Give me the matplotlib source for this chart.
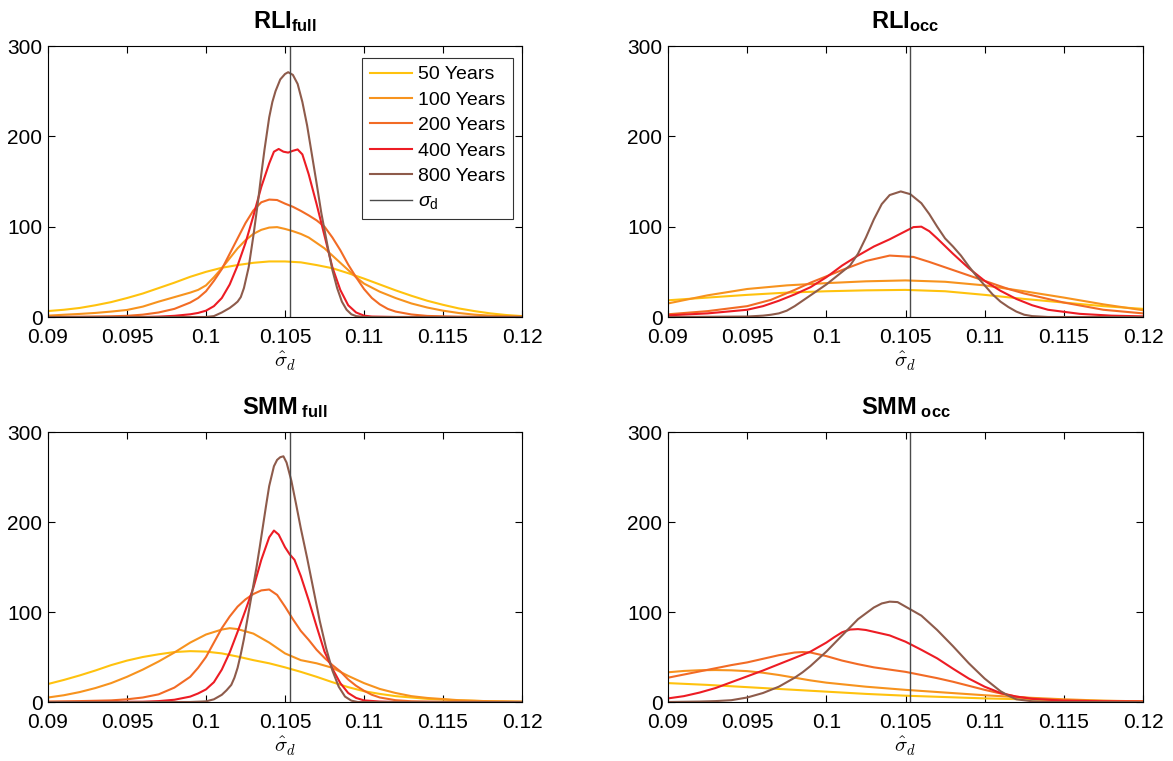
import matplotlib
matplotlib.use("Agg")
import matplotlib.pyplot as plt

plt.rcParams['font.family'] = ['Liberation Sans', 'DejaVu Sans']
plt.rcParams['mathtext.fontset'] = 'custom'
plt.rcParams['mathtext.rm'] = 'Liberation Sans'
plt.rcParams['mathtext.bf'] = 'Liberation Sans:bold'
plt.rcParams['mathtext.it'] = 'Liberation Sans:italic'

sigma_d = 0.1053
labels = ['50 Years', '100 Years', '200 Years', '400 Years', '800 Years']
colors = ['#FFC20E', '#F7931E', '#F26B25', '#ED1C24', '#8E5B4B']
titles = [r'$\mathbf{RLI}_{\mathbf{full}}$', r'$\mathbf{RLI}_{\mathbf{occ}}$',
          r'$\mathbf{SMM}_{\mathbf{\ full}}$', r'$\mathbf{SMM}_{\mathbf{\ occ}}$']
xticks = [0.09, 0.095, 0.1, 0.105, 0.11, 0.115, 0.12]
xticklabels = ['0.09', '0.095', '0.1', '0.105', '0.11', '0.115', '0.12']
yticks = [0, 100, 200, 300]

# ---------------- RLI full ----------------
rf50_x = [0.090, 0.091, 0.092, 0.093, 0.094, 0.095, 0.096, 0.097, 0.098, 0.099, 0.100, 0.101, 0.102, 0.103,
          0.104, 0.105, 0.106, 0.107, 0.108, 0.109, 0.110, 0.111, 0.112, 0.113, 0.114, 0.115, 0.116, 0.117,
          0.118, 0.119, 0.120]
rf50_y = [6.6, 8, 10, 13, 16.5, 21, 26, 32, 38, 44.5, 50, 54.5, 57.5, 60, 61.5, 61.5, 60.5, 57.5, 54, 48.5,
          42.5, 36, 29.5, 23.5, 18, 13.5, 9.5, 6.5, 4, 2.2, 1]
rf100_x = [0.090, 0.091, 0.092, 0.093, 0.094, 0.095, 0.096, 0.097, 0.098, 0.099, 0.0995, 0.100, 0.1005, 0.101,
           0.1015, 0.102, 0.1025, 0.103, 0.1035, 0.104, 0.1045, 0.105, 0.1055, 0.106, 0.1065, 0.107, 0.1075,
           0.108, 0.1085, 0.109, 0.1095, 0.110, 0.111, 0.112, 0.113, 0.114, 0.115, 0.116, 0.117, 0.118, 0.119,
           0.120]
rf100_y = [1.5, 2.5, 3.4, 4.5, 6, 7.8, 11.5, 17, 22, 27, 30, 35, 44, 54, 65, 76, 85, 92, 96.5, 99, 99.5, 97.5,
           95, 92, 88, 82, 76, 68, 60, 52, 44, 37, 28, 21, 15, 10.5, 7, 4.4, 2.6, 1.5, 0.8, 0.4]
rf200_x = [0.090, 0.092, 0.094, 0.095, 0.096, 0.097, 0.098, 0.099, 0.0995, 0.100, 0.1005, 0.101, 0.1015, 0.102,
           0.1025, 0.103, 0.1035, 0.104, 0.1045, 0.105, 0.1055, 0.106, 0.1065, 0.107, 0.1075, 0.108, 0.1085,
           0.109, 0.1095, 0.110, 0.1105, 0.111, 0.1115, 0.112, 0.113, 0.114, 0.116, 0.120]
rf200_y = [0, 0.3, 0.8, 1.3, 2.6, 5, 9, 16, 21, 28.5, 40, 53, 70, 87, 104, 118, 127, 130, 129.5, 125.5, 122,
           117.5, 112.5, 107, 100, 88, 74, 58, 44, 31, 21, 14, 9, 6, 2.8, 1.2, 0.3, 0]
rf400_x = [0.090, 0.096, 0.097, 0.098, 0.099, 0.0995, 0.100, 0.1005, 0.101, 0.1015, 0.102, 0.1025, 0.103, 0.1035,
           0.104, 0.1043, 0.1046, 0.1049, 0.1052, 0.1055, 0.1058, 0.1061, 0.1065, 0.107, 0.1075, 0.108, 0.1085,
           0.109, 0.1095, 0.110, 0.1105, 0.112, 0.120]
rf400_y = [0, 0, 0.4, 1.3, 3, 4.5, 7, 12, 21, 36, 57, 82, 112, 144, 170, 183, 186, 183, 182, 184, 185.5, 180,
           158, 125, 90, 55, 30, 13, 5, 1.5, 0.5, 0, 0]
rf800_x = [0.090, 0.100, 0.1005, 0.101, 0.1015, 0.1018, 0.102, 0.1022, 0.1024, 0.1027, 0.103, 0.1033, 0.1035,
           0.1037, 0.1040, 0.1042, 0.1044, 0.1047, 0.1050, 0.1052, 0.1055, 0.1058, 0.1061, 0.1064, 0.1067, 0.107,
           0.1073, 0.1077, 0.108, 0.1083, 0.1086, 0.1089, 0.1092, 0.1095, 0.110, 0.120]
rf800_y = [0, 0, 1, 5, 10, 14, 17, 22, 32, 55, 90, 129, 158, 185, 221, 238, 250, 263, 269, 271, 268, 258, 238,
           212, 180, 148, 115, 78, 52, 32, 17, 8, 3, 1, 0, 0]

# ---------------- RLI occ ----------------
ro50_x = [0.090, 0.0925, 0.095, 0.0975, 0.100, 0.1025, 0.105, 0.1075, 0.110, 0.1125, 0.115, 0.1175, 0.120]
ro50_y = [18.5, 21.5, 24.5, 27, 28.5, 29.5, 30, 28.5, 24.5, 20, 16, 12, 9]
ro100_x = [0.090, 0.0925, 0.095, 0.0975, 0.100, 0.1025, 0.105, 0.1075, 0.110, 0.1125, 0.115, 0.1175, 0.120]
ro100_y = [15, 24, 31, 35, 37.5, 39.5, 40.5, 39, 35, 28.5, 21.5, 14, 7.5]
ro200_x = [0.090, 0.0925, 0.095, 0.0965, 0.098, 0.099, 0.100, 0.101, 0.1025, 0.104, 0.1055, 0.1065, 0.1075,
           0.109, 0.110, 0.1115, 0.1125, 0.115, 0.1175, 0.120]
ro200_y = [3, 6.5, 12, 19, 30, 38, 45, 52, 62, 68, 66.5, 61, 55, 46, 40, 31, 26, 16, 8, 4]
ro400_x = [0.090, 0.0925, 0.095, 0.096, 0.097, 0.098, 0.099, 0.100, 0.101, 0.102, 0.103, 0.104, 0.105, 0.1055,
           0.106, 0.1065, 0.107, 0.108, 0.109, 0.110, 0.111, 0.112, 0.113, 0.114, 0.116, 0.118, 0.120]
ro400_y = [1.8, 4, 8, 12, 18, 25, 33, 44, 57, 68, 78, 86, 95, 99.5, 100, 95, 87, 70, 54, 40, 29, 20, 13, 8,
           3.5, 1.5, 0.7]
ro800_x = [0.090, 0.095, 0.096, 0.0965, 0.097, 0.0975, 0.098, 0.0985, 0.099, 0.0995, 0.100, 0.1005, 0.101,
           0.1015, 0.102, 0.1025, 0.103, 0.1035, 0.104, 0.1047, 0.1053, 0.106, 0.1065, 0.107, 0.1075, 0.108,
           0.1085, 0.109, 0.1095, 0.110, 0.1105, 0.111, 0.1115, 0.112, 0.1125, 0.113, 0.114, 0.120]
ro800_y = [0, 0.5, 1.5, 2.5, 4, 7, 12, 18, 24, 30, 36, 43, 50, 57, 70, 88, 108, 125, 135, 139, 136, 126, 114,
           100, 87, 78, 68, 56, 45, 35, 25, 17, 11, 6, 2.5, 1, 0, 0]

# ---------------- SMM full ----------------
sf50_x = [0.090, 0.091, 0.092, 0.093, 0.094, 0.095, 0.096, 0.097, 0.098, 0.099, 0.100, 0.101, 0.102, 0.103,
          0.104, 0.105, 0.106, 0.107, 0.108, 0.109, 0.110, 0.111, 0.112, 0.114, 0.116, 0.118, 0.120]
sf50_y = [20, 24.5, 29.5, 35, 41, 46, 50, 53, 55.5, 56.5, 56, 54, 50.5, 46.5, 43, 38.5, 33.5, 28, 22, 16.5,
          12, 9, 6.5, 3.5, 1.8, 0.8, 0.3]
sf100_x = [0.090, 0.091, 0.092, 0.093, 0.094, 0.095, 0.096, 0.097, 0.098, 0.099, 0.100, 0.101, 0.1015, 0.102,
           0.103, 0.104, 0.105, 0.106, 0.107, 0.108, 0.109, 0.110, 0.111, 0.112, 0.113, 0.114, 0.116, 0.118,
           0.120]
sf100_y = [5, 7.5, 11, 15.5, 21, 28, 36, 45, 55, 66, 75, 80.5, 82, 81, 76, 66, 54, 46.5, 43, 38, 29, 21, 14.5,
           10, 6.5, 4.5, 2, 0.8, 0.3]
sf200_x = [0.090, 0.092, 0.094, 0.095, 0.096, 0.097, 0.098, 0.099, 0.0995, 0.100, 0.1005, 0.101, 0.1015, 0.102,
           0.1025, 0.103, 0.1035, 0.104, 0.1045, 0.105, 0.1055, 0.106, 0.1065, 0.107, 0.1075, 0.108, 0.1085,
           0.109, 0.1095, 0.110, 0.1105, 0.111, 0.112, 0.113, 0.115, 0.120]
sf200_y = [0.5, 1, 1.8, 3, 5, 8.5, 16, 28, 38, 50, 66, 82, 95, 106, 114, 120, 124, 125, 119, 106, 92, 79, 69,
           58, 49, 41, 34, 25, 18, 12.5, 8, 5, 2, 0.8, 0.2, 0]
sf400_x = [0.090, 0.096, 0.097, 0.098, 0.099, 0.0995, 0.100, 0.1005, 0.101, 0.1015, 0.102, 0.1025, 0.103, 0.1035,
           0.104, 0.1043, 0.1046, 0.105, 0.1053, 0.1056, 0.106, 0.1065, 0.107, 0.1075, 0.108, 0.1085, 0.109,
           0.1095, 0.110, 0.111, 0.112, 0.120]
sf400_y = [0, 0.3, 1, 2.5, 6, 9.5, 14, 22, 36, 55, 78, 102, 127, 158, 183, 190.5, 186, 172, 164, 158, 140, 113,
           84, 56, 37, 21, 10, 4.5, 1.8, 0.5, 0, 0]
sf800_x = [0.090, 0.099, 0.100, 0.1005, 0.101, 0.1013, 0.1016, 0.1018, 0.102, 0.1022, 0.1024, 0.1026, 0.1028,
           0.1030, 0.1032, 0.1034, 0.1036, 0.1038, 0.104, 0.1043, 0.1045, 0.1047, 0.1049, 0.1051, 0.1054, 0.1057,
           0.106, 0.1064, 0.1068, 0.1072, 0.1076, 0.108, 0.1084, 0.1088, 0.1092, 0.1096, 0.110, 0.120]
sf800_y = [0, 0, 0.7, 3, 8, 13, 19, 27, 38, 53, 70, 90, 110, 130, 150, 172, 195, 218, 240, 262, 269, 272, 273,
           266, 246, 220, 193, 160, 125, 90, 60, 35, 17, 6, 1.5, 0, 0, 0]

# ---------------- SMM occ ----------------
so50_x = [0.090, 0.0925, 0.095, 0.0975, 0.100, 0.1025, 0.105, 0.1075, 0.110, 0.1125, 0.115, 0.1175, 0.120]
so50_y = [21, 19, 16.5, 14, 11.5, 9, 7, 5.5, 4, 3, 2, 1.2, 0.7]
so100_x = [0.090, 0.091, 0.092, 0.093, 0.094, 0.095, 0.096, 0.097, 0.098, 0.099, 0.100, 0.1025, 0.105, 0.1075,
           0.110, 0.1125, 0.115, 0.1175, 0.120]
so100_y = [33, 34.5, 35.3, 35.5, 35.2, 34.3, 32.5, 30, 27, 24, 21.5, 17, 13.5, 10.5, 7.5, 5, 3, 1.5, 0.7]
so200_x = [0.090, 0.091, 0.092, 0.093, 0.094, 0.095, 0.096, 0.097, 0.098, 0.0985, 0.099, 0.100, 0.101, 0.102,
           0.103, 0.104, 0.105, 0.106, 0.107, 0.108, 0.109, 0.110, 0.111, 0.112, 0.113, 0.115, 0.1175, 0.120]
so200_y = [27, 30.5, 34, 37.5, 41, 44, 48, 52, 55, 55.5, 55, 51, 46, 42, 38.5, 36, 33.5, 30, 26.5, 22.5, 18,
           13.5, 9.5, 6, 4, 1.7, 0.7, 0.3]
so400_x = [0.090, 0.091, 0.092, 0.093, 0.094, 0.095, 0.096, 0.097, 0.098, 0.099, 0.100, 0.1005, 0.101, 0.1015,
           0.102, 0.1025, 0.103, 0.104, 0.105, 0.106, 0.107, 0.108, 0.109, 0.110, 0.111, 0.112, 0.113, 0.115,
           0.1175, 0.120]
so400_y = [4, 6.5, 10.5, 15.5, 22, 28.5, 35, 42, 49, 56, 66, 72, 77.5, 80.5, 81, 80, 78, 74, 67, 58, 48.5, 37,
           26, 17, 10, 6, 3.5, 1.5, 0.8, 0.5]
so800_x = [0.090, 0.092, 0.093, 0.094, 0.095, 0.096, 0.097, 0.098, 0.0985, 0.099, 0.0995, 0.100, 0.101, 0.102,
           0.103, 0.1035, 0.104, 0.1045, 0.105, 0.106, 0.107, 0.108, 0.109, 0.110, 0.111, 0.1115, 0.112, 0.113,
           0.114, 0.120]
so800_y = [0, 0.5, 1, 2, 5, 10, 17, 27, 33, 40, 48, 56, 74, 92, 105, 109.5, 111.5, 111, 106, 96, 80, 62, 43,
           26, 12, 7, 3, 0.8, 0, 0]

panels = [
    [(rf50_x, rf50_y), (rf100_x, rf100_y), (rf200_x, rf200_y), (rf400_x, rf400_y), (rf800_x, rf800_y)],
    [(ro50_x, ro50_y), (ro100_x, ro100_y), (ro200_x, ro200_y), (ro400_x, ro400_y), (ro800_x, ro800_y)],
    [(sf50_x, sf50_y), (sf100_x, sf100_y), (sf200_x, sf200_y), (sf400_x, sf400_y), (sf800_x, sf800_y)],
    [(so50_x, so50_y), (so100_x, so100_y), (so200_x, so200_y), (so400_x, so400_y), (so800_x, so800_y)],
]

W, H = 1173, 761
fig = plt.figure(figsize=(W / 100, H / 100), dpi=100)
boxes = [(48, 46, 522, 317), (668, 46, 1143, 317), (48, 432, 522, 702), (668, 432, 1143, 702)]

for i, (box, series) in enumerate(zip(boxes, panels)):
    l, t, r, b = box
    ax = fig.add_axes([l / W, 1 - b / H, (r - l) / W, (b - t) / H])
    for (xs, ys), c, lab in zip(series, colors, labels):
        ax.plot(xs, ys, color=c, lw=1.5, label=lab, solid_joinstyle='round')
    ax.axvline(sigma_d, color='#4a4a4a', lw=1.0, label=r'$\sigma_{\mathrm{d}}$')
    ax.set_xlim(0.09, 0.12)
    ax.set_ylim(0, 300)
    ax.set_xticks(xticks)
    ax.set_xticklabels(xticklabels)
    ax.set_yticks(yticks)
    ax.tick_params(direction='in', top=True, right=True, labelsize=15, length=5, width=0.8)
    ax.tick_params(axis='x', pad=8)
    ax.tick_params(axis='y', pad=4)
    for s in ax.spines.values():
        s.set_linewidth(0.8)
    ax.set_title(titles[i], fontsize=17, pad=13)
    ax.set_xlabel(r'$\hat{\sigma}_d$', fontsize=15, math_fontfamily='cm', labelpad=2)
    if i == 0:
        leg = ax.legend(loc='upper right', bbox_to_anchor=(0.99, 0.97), fontsize=14, frameon=True,
                        fancybox=False, edgecolor='black', handlelength=2.2, borderpad=0.4,
                        labelspacing=0.4, handletextpad=0.3, borderaxespad=0.2)
        leg.get_frame().set_linewidth(0.8)

fig.savefig('out.png', dpi=100)
